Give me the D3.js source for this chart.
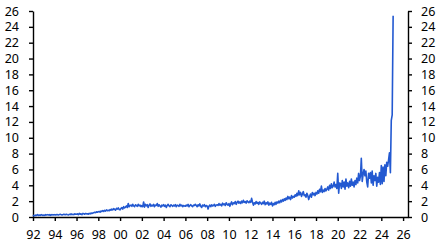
<!DOCTYPE html>
<html>
<head>
<meta charset="utf-8">
<script src="https://cdn.jsdelivr.net/npm/d3@7"></script>
<style>
  body { margin: 0; background: #fff; }
  .axis text { font-family: "Noto Sans", sans-serif; font-size: 12.5px; fill: #000; }
  .axis path, .axis line { stroke: #000; stroke-width: 1.4; }
</style>
</head>
<body>
<div id="chart"></div>
<script>
// monthly values, one row per year, starting Jan 1992
var startYear = 1992;
var values = [
  [0.1,0.2,0.15,0.25,0.2,0.3,0.2,0.25,0.2,0.3,0.25,0.2],          // 1992
  [0.25,0.2,0.3,0.25,0.3,0.25,0.3,0.2,0.3,0.25,0.3,0.25],         // 1993
  [0.3,0.25,0.3,0.3,0.25,0.3,0.35,0.3,0.25,0.3,0.35,0.3],         // 1994
  [0.3,0.35,0.3,0.25,0.35,0.3,0.4,0.3,0.35,0.3,0.4,0.35],         // 1995
  [0.35,0.4,0.3,0.45,0.35,0.4,0.3,0.45,0.4,0.35,0.45,0.4],        // 1996
  [0.4,0.35,0.45,0.4,0.5,0.45,0.5,0.55,0.6,0.55,0.65,0.6],        // 1997
  [0.65,0.7,0.6,0.75,0.7,0.8,0.7,0.85,0.75,0.9,0.8,0.85],         // 1998
  [0.8,0.95,0.85,1.0,0.9,1.05,0.95,0.85,1.1,1.0,1.15,0.95],       // 1999
  [0.9,1.1,1.2,1.0,1.3,1.15,1.25,1.4,1.2,1.7,1.3,1.45],           // 2000
  [1.5,1.35,1.6,1.4,1.3,1.55,1.45,1.35,1.6,1.4,1.5,1.3],          // 2001
  [1.45,1.3,1.9,1.25,1.6,1.4,1.55,1.2,1.5,1.65,1.35,1.5],         // 2002
  [1.4,1.6,1.3,1.5,1.45,1.7,1.35,1.55,1.4,1.25,1.5,1.4],          // 2003
  [1.55,1.35,1.5,1.2,1.45,1.6,1.4,1.3,1.55,1.45,1.35,1.5],        // 2004
  [1.4,1.55,1.3,1.5,1.45,1.35,1.6,1.4,1.5,1.3,1.45,1.4],          // 2005
  [1.35,1.5,1.4,1.6,1.3,1.45,1.55,1.4,1.3,1.5,1.45,1.6],          // 2006
  [1.45,1.3,1.55,1.4,1.65,1.35,1.2,1.5,1.4,1.55,1.3,1.45],        // 2007
  [1.4,1.0,1.35,1.5,1.3,1.55,1.4,1.45,1.6,1.35,1.5,1.55],         // 2008
  [1.45,1.7,1.5,1.6,1.4,1.75,1.55,1.65,1.45,1.8,1.6,1.5],         // 2009
  [1.7,1.35,1.65,1.9,1.55,1.8,1.7,1.95,1.6,1.85,2.0,1.75],        // 2010
  [1.9,1.7,2.0,1.8,2.1,1.85,1.95,1.75,2.05,1.9,1.8,2.0],          // 2011
  [1.85,2.35,1.9,1.5,1.8,1.65,1.95,1.7,1.85,1.6,1.9,1.75],        // 2012
  [1.6,1.85,1.7,2.0,1.55,1.8,1.65,1.9,1.5,1.75,1.6,1.85],         // 2013
  [1.4,1.7,1.55,1.85,1.6,1.9,1.75,2.0,1.8,2.1,1.9,2.2],           // 2014
  [2.0,2.3,2.1,2.4,2.2,2.6,2.3,2.5,2.2,2.7,2.4,2.6],              // 2015
  [2.5,2.8,2.6,3.0,2.7,3.3,2.8,3.1,2.6,2.9,3.2,2.7],              // 2016
  [2.8,2.5,3.0,2.7,2.2,2.6,2.9,2.5,3.1,2.8,3.0,2.7],              // 2017
  [3.1,2.9,3.3,3.0,3.5,3.2,3.9,3.1,3.4,3.2,3.6,3.3],              // 2018
  [3.5,3.8,3.4,4.0,3.6,4.2,3.7,3.9,4.4,3.8,4.1,3.6],              // 2019
  [5.5,3.0,4.3,4.2,3.6,4.6,3.8,4.4,3.5,4.8,3.9,4.3],              // 2020
  [3.7,4.5,3.9,4.8,4.0,4.4,3.8,4.6,4.1,4.9,4.3,5.5],              // 2021
  [4.6,5.2,7.4,4.5,5.4,6.0,5.2,5.8,4.4,3.8,5.5,4.9],              // 2022
  [5.6,4.3,5.8,4.0,5.2,4.6,5.5,3.9,5.0,4.4,5.6,4.1],              // 2023
  [6.5,4.2,6.3,4.5,6.6,5.2,6.9,6.4,7.2,8.1,5.6,12.2],             // 2024
  [12.9,25.4]                                                     // 2025
];
var yTicks = [0,2,4,6,8,10,12,14,16,18,20,22,24,26];
var xTickYears = d3.range(1992, 2027, 2);

var data = [];
values.forEach(function(row, i) {
  row.forEach(function(v, m) {
    data.push({ date: new Date(startYear + i, m, 1), value: v });
  });
});

var width = 443, height = 249;
var margin = { top: 11, right: 35, bottom: 32, left: 33 };

var svg = d3.select('#chart')
  .append('svg')
  .attr('width', width)
  .attr('height', height);

var x = d3.scaleTime()
  .domain([new Date(1992, 0, 1), new Date(2026, 5, 15)])
  .range([margin.left, width - margin.right]);

var y = d3.scaleLinear()
  .domain([0, 26])
  .range([height - margin.bottom, margin.top]);

svg.append('g')
  .attr('class', 'axis')
  .attr('transform', 'translate(' + margin.left + ',0)')
  .call(d3.axisLeft(y).tickValues(yTicks).tickSize(4).tickSizeOuter(0).tickPadding(10));

svg.append('g')
  .attr('class', 'axis')
  .attr('transform', 'translate(' + (width - margin.right) + ',0)')
  .call(d3.axisRight(y).tickValues(yTicks).tickSize(4).tickSizeOuter(0).tickPadding(9));

svg.append('g')
  .attr('class', 'axis')
  .attr('transform', 'translate(0,' + (height - margin.bottom) + ')')
  .call(d3.axisBottom(x)
    .tickValues(xTickYears.map(function(yr) { return new Date(yr, 0, 1); }))
    .tickFormat(d3.timeFormat('%y'))
    .tickSize(4).tickSizeOuter(0).tickPadding(9));

var line = d3.line()
  .x(function(d) { return x(d.date); })
  .y(function(d) { return y(d.value); });

svg.append('path')
  .datum(data)
  .attr('fill', 'none')
  .attr('stroke', '#2359d1')
  .attr('stroke-width', 1.6)
  .attr('stroke-linejoin', 'round')
  .attr('d', line);
</script>
</body>
</html>
